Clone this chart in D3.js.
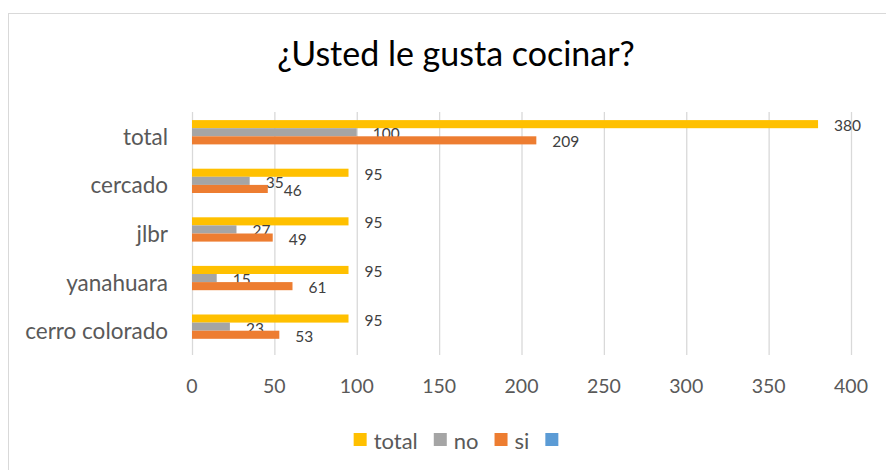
<!DOCTYPE html>
<html>
<head>
<meta charset="utf-8">
<script src="https://cdn.jsdelivr.net/npm/d3@7"></script>
<style>
  body { margin: 0; background: #fff; }
  svg { display: block; font-family: Lato, "Open Sans", sans-serif; }
</style>
</head>
<body>
<div id="chart"></div>
<script>
// data
var categories = ["total", "cercado", "jlbr", "yanahuara", "cerro colorado"];
var totalVals = [380, 95, 95, 95, 95];
var noVals = [100, 35, 27, 15, 23];
var siVals = [209, 46, 49, 61, 53];
var seriesNames = ["total", "no", "si", ""];
var xTicks = [0, 50, 100, 150, 200, 250, 300, 350, 400];

var colors = ["#FFC000", "#A5A5A5", "#ED7D31", "#5B9BD5"];

var width = 886, height = 470;
var svg = d3.select("#chart").append("svg")
  .attr("width", width)
  .attr("height", height);

svg.append("rect").attr("width", width).attr("height", height).attr("fill", "#fff");

// chart area border
svg.append("rect")
  .attr("x", 8.5).attr("y", 13.5)
  .attr("width", 1000).attr("height", 600)
  .attr("fill", "#fff")
  .attr("stroke", "#d9d9d9");

svg.append("text")
  .attr("x", 456).attr("y", 66)
  .attr("text-anchor", "middle")
  .attr("font-size", 34)
  .attr("fill", "#000")
  .text("¿Usted le gusta cocinar?");

var x = d3.scaleLinear().domain([0, 400]).range([192, 851]);
var y = d3.scaleBand().domain(categories).range([112, 355]);
var inner = d3.scaleBand().domain(d3.range(4)).range([0, y.bandwidth()])
  .paddingInner(0).paddingOuter(1);

// gridlines
svg.append("g").selectAll("line")
  .data(xTicks).join("line")
  .attr("x1", d => x(d) + 0.5).attr("x2", d => x(d) + 0.5)
  .attr("y1", 112).attr("y2", 355)
  .attr("stroke", "#d9d9d9").attr("stroke-width", 1.3);

// x tick labels
svg.append("g").selectAll("text")
  .data(xTicks).join("text")
  .attr("x", d => x(d)).attr("y", 385)
  .attr("text-anchor", "middle")
  .attr("dominant-baseline", "central")
  .attr("font-size", 19.5)
  .attr("fill", "#595959")
  .text(d => d);

// category labels
svg.append("g").selectAll("text")
  .data(categories).join("text")
  .attr("x", 168)
  .attr("y", d => y(d) + y.bandwidth() / 2)
  .attr("text-anchor", "end")
  .attr("dominant-baseline", "central")
  .attr("font-size", 22.5)
  .attr("fill", "#595959")
  .text(d => d);

var series = [totalVals, noVals, siVals];

series.forEach(function(vals, s) {
  var rows = categories.map((c, i) => ({ cat: c, v: vals[i] }));
  svg.append("g").selectAll("rect")
    .data(rows).join("rect")
    .attr("x", x(0))
    .attr("y", d => y(d.cat) + inner(s))
    .attr("width", d => x(d.v) - x(0))
    .attr("height", inner.bandwidth())
    .attr("fill", colors[s]);

  svg.append("g").selectAll("text")
    .data(rows).join("text")
    .attr("x", d => x(d.v) + 16)
    .attr("y", d => y(d.cat) + inner(s) + inner.bandwidth() / 2 + 1)
    .attr("dominant-baseline", "central")
    .attr("font-size", 15.5)
    .attr("fill", "#404040")
    .text(d => d.v);
});

// legend
var legend = svg.append("g");
var lx = 0;
seriesNames.forEach(function(name, i) {
  legend.append("rect")
    .attr("x", lx).attr("y", 433)
    .attr("width", 13).attr("height", 13)
    .attr("fill", colors[i]);
  lx += 20;
  if (name) {
    var t = legend.append("text")
      .attr("x", lx).attr("y", 440)
      .attr("dominant-baseline", "central")
      .attr("font-size", 22)
      .attr("fill", "#595959")
      .text(name);
    lx += t.node().getComputedTextLength() + 16;
  }
});
var lw = lx - 7;
legend.attr("transform", "translate(" + (456 - lw / 2) + ",0)");
</script>
</body>
</html>
